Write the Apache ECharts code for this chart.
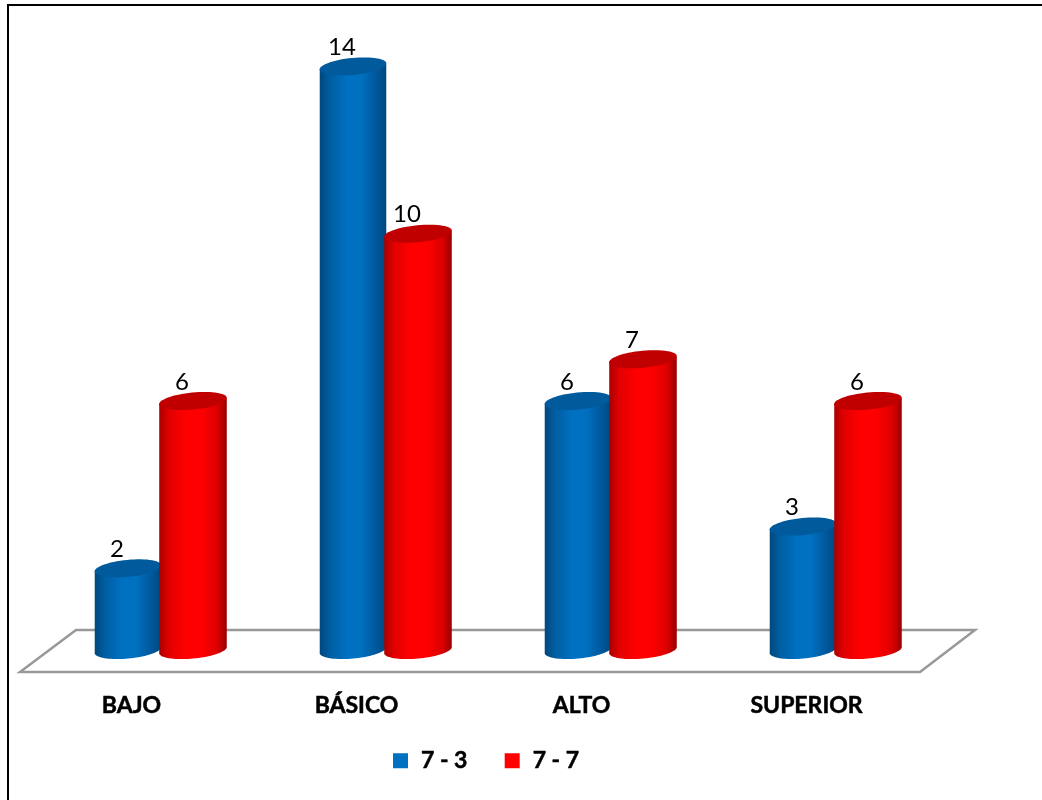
<!DOCTYPE html>
<html>
<head>
<meta charset="utf-8">
<style>html,body{margin:0;padding:0;background:#fff}#chart{width:1042px;height:800px}</style>
<script src="https://cdn.jsdelivr.net/npm/echarts@6/dist/echarts.min.js"></script>
</head>
<body>
<div id="chart"></div>
<script>
const categories = ['BAJO', 'BÁSICO', 'ALTO', 'SUPERIOR'];
const seriesNames = ['7 - 3', '7 - 7'];
const values73 = [2, 14, 6, 3];
const values77 = [6, 10, 7, 6];

// Cylinder styling: side gradient stops and the darker cap colour.
const blueSide = ['#00477c', '#005c9f', '#0070c0', '#0070c0', '#00579a', '#00477c'];
const redSide = ['#a80000', '#e00000', '#ff0000', '#ff0000', '#dc0000', '#980000'];
const blueCap = '#005a9c';
const redCap = '#c00000';

const CYL_RY = 8.5;
const CYL_TILT = -5.5 * Math.PI / 180;
const CYL_OFFSET = 32.5;
const BASE_SINK = 2;          // base ellipse sits a little above the zero level
const FLOOR_DX = 28;
const FLOOR_DY = 21;

function ellipsePoint(cx, cy, rx, angle) {
  const x = rx * Math.cos(angle);
  const y = CYL_RY * Math.sin(angle);
  return [
    cx + x * Math.cos(CYL_TILT) - y * Math.sin(CYL_TILT),
    cy + x * Math.sin(CYL_TILT) + y * Math.cos(CYL_TILT)
  ];
}

function ellipsePolygon(cx, cy, rx, from, to, steps) {
  const pts = [];
  for (let i = 0; i <= steps; i++) {
    pts.push(ellipsePoint(cx, cy, rx, from + (to - from) * i / steps));
  }
  return pts;
}

function sideGradient(stops) {
  const at = [0, 0.14, 0.4, 0.62, 0.86, 1];
  return new echarts.graphic.LinearGradient(0, 0, 1, 0,
    stops.map((color, i) => ({ offset: at[i], color })));
}

function cylinderRenderer(direction, rx, sideStops, capColor) {
  return function (params, api) {
    const cat = api.value(0);
    const val = api.value(1);
    const top = api.coord([cat, val]);
    const zero = api.coord([cat, 0]);
    const cx = top[0] + direction * CYL_OFFSET;
    const cyTop = top[1];
    const cyBase = zero[1] - BASE_SINK;

    // Side wall: straight from the cap down, then the lower half of the base ellipse.
    const lowerArc = ellipsePolygon(cx, cyBase, rx, Math.PI - CYL_TILT, -CYL_TILT, 40);
    const wall = [ellipsePoint(cx, cyTop, rx, Math.PI - CYL_TILT)]
      .concat(lowerArc)
      .concat([ellipsePoint(cx, cyTop, rx, -CYL_TILT)]);
    const cap = ellipsePolygon(cx, cyTop, rx, 0, Math.PI * 2, 60);

    return {
      type: 'group',
      children: [
        { type: 'polygon', shape: { points: wall }, style: { fill: sideGradient(sideStops) } },
        { type: 'polygon', shape: { points: cap }, style: { fill: capColor } },
        {
          type: 'text',
          style: {
            x: cx - 11,
            y: cyTop - 19,
            text: String(val),
            fill: '#000',
            font: '24px "Lato"',
            align: 'center',
            verticalAlign: 'middle'
          }
        }
      ]
    };
  };
}

function renderFloor(params, api) {
  const g = params.coordSys;
  const zeroY = api.coord([0, 0])[1];
  const l = g.x, r = g.x + g.width;
  return {
    type: 'polygon',
    shape: {
      points: [
        [l + FLOOR_DX, zeroY - FLOOR_DY - 1],
        [r + FLOOR_DX - 1, zeroY - FLOOR_DY - 1],
        [r - FLOOR_DX, zeroY + FLOOR_DY - 1],
        [l - FLOOR_DX, zeroY + FLOOR_DY - 1]
      ]
    },
    style: { fill: '#fff', stroke: '#999', lineWidth: 2.5 }
  };
}

const chart = echarts.init(document.getElementById('chart'), null, { renderer: 'canvas' });
chart.setOption({
  animation: false,
  backgroundColor: '#fff',
  grid: { left: 48, width: 900, top: 24.6, height: 627.4, containLabel: false },
  xAxis: {
    type: 'category',
    data: categories,
    axisLine: { show: false },
    axisTick: { show: false },
    axisLabel: {
      margin: 42,
      color: '#000',
      fontFamily: 'Lato',
      fontWeight: 'bold',
      fontSize: 23,
      textBorderColor: '#000',
      textBorderWidth: 0.5,
      padding: [0, 58, 0, 0]
    }
  },
  yAxis: { type: 'value', min: 0, max: 15, show: false, splitLine: { show: false } },
  legend: {
    left: 393,
    top: 749,
    padding: 0,
    itemWidth: 15,
    itemHeight: 15,
    itemGap: 37,
    icon: 'rect',
    data: seriesNames,
    textStyle: {
      color: '#000', fontFamily: 'Lato', fontWeight: 'bold', fontSize: 23,
      textBorderColor: '#000', textBorderWidth: 0.5,
      padding: [0, 0, 0, 8]
    }
  },
  graphic: [{
    type: 'rect',
    silent: true,
    shape: { x: 8, y: 5, width: 1200, height: 1000 },
    style: { fill: 'none', stroke: '#000', lineWidth: 2 }
  }],
  series: [
    { type: 'custom', silent: true, legendHoverLink: false, data: [[0, 0]], renderItem: renderFloor, z: 1, tooltip: { show: false } },
    {
      name: seriesNames[0], type: 'custom', z: 2,
      itemStyle: { color: '#0070c0' },
      encode: { x: 0, y: 1 },
      data: values73.map((v, i) => [i, v]),
      renderItem: cylinderRenderer(-1, 33.5, blueSide, blueCap)
    },
    {
      name: seriesNames[1], type: 'custom', z: 3,
      itemStyle: { color: '#ff0000' },
      encode: { x: 0, y: 1 },
      data: values77.map((v, i) => [i, v]),
      renderItem: cylinderRenderer(1, 34, redSide, redCap)
    }
  ]
});
</script>
</body>
</html>
